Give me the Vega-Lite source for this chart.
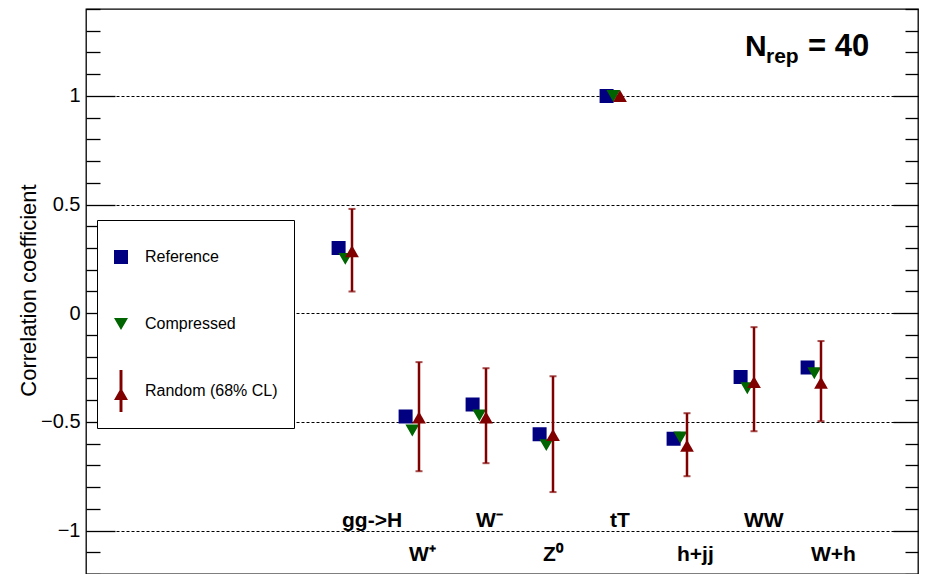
{
  "$schema": "https://vega.github.io/schema/vega-lite/v6.json",
  "width": 832,
  "height": 565,
  "autosize": {"type": "none"},
  "padding": {"left": 86, "top": 9, "right": 8, "bottom": 0},
  "background": "white",
  "config": {
    "view": {"stroke": "black", "strokeWidth": 1.3},
    "font": "Liberation Sans",
    "legend": {
      "orient": "none",
      "legendX": 11,
      "legendY": 211,
      "padding": 16,
      "strokeColor": "black",
      "fillColor": "white",
      "labelFont": "Liberation Sans",
      "labelFontSize": 16,
      "labelColor": "black",
      "symbolSize": 196,
      "symbolStrokeWidth": 0,
      "rowPadding": 25,
      "labelOffset": 16,
      "cornerRadius": 0,
      "titleFontSize": 8,
      "titlePadding": 5
    }
  },
  "data": {
    "values": [
      {"process": "gg->H", "series": "Reference", "value": 0.30},
      {"process": "gg->H", "series": "Compressed", "value": 0.25},
      {"process": "gg->H", "series": "Random (68% CL)", "value": 0.285, "lo": 0.10, "hi": 0.48},
      {"process": "W⁺", "series": "Reference", "value": -0.475},
      {"process": "W⁺", "series": "Compressed", "value": -0.54},
      {"process": "W⁺", "series": "Random (68% CL)", "value": -0.48, "lo": -0.727, "hi": -0.225},
      {"process": "W⁻", "series": "Reference", "value": -0.42},
      {"process": "W⁻", "series": "Compressed", "value": -0.47},
      {"process": "W⁻", "series": "Random (68% CL)", "value": -0.48, "lo": -0.69, "hi": -0.253},
      {"process": "Z⁰", "series": "Reference", "value": -0.557},
      {"process": "Z⁰", "series": "Compressed", "value": -0.607},
      {"process": "Z⁰", "series": "Random (68% CL)", "value": -0.56, "lo": -0.823, "hi": -0.29},
      {"process": "tT", "series": "Reference", "value": 1.0},
      {"process": "tT", "series": "Compressed", "value": 1.0},
      {"process": "tT", "series": "Random (68% CL)", "value": 1.0},
      {"process": "h+jj", "series": "Reference", "value": -0.578},
      {"process": "h+jj", "series": "Compressed", "value": -0.572},
      {"process": "h+jj", "series": "Random (68% CL)", "value": -0.61, "lo": -0.75, "hi": -0.46},
      {"process": "WW", "series": "Reference", "value": -0.294},
      {"process": "WW", "series": "Compressed", "value": -0.345},
      {"process": "WW", "series": "Random (68% CL)", "value": -0.317, "lo": -0.543, "hi": -0.064},
      {"process": "W+h", "series": "Reference", "value": -0.25},
      {"process": "W+h", "series": "Compressed", "value": -0.276},
      {"process": "W+h", "series": "Random (68% CL)", "value": -0.32, "lo": -0.497, "hi": -0.128}
    ]
  },
  "encoding": {
    "x": {
      "field": "process",
      "type": "nominal",
      "axis": null,
      "sort": null,
      "scale": {
        "type": "band",
        "domain": [" ", "  ", "   ", "gg->H", "W⁺", "W⁻", "Z⁰", "tT", "h+jj", "WW", "W+h"],
        "paddingInner": 0,
        "paddingOuter": 0.709,
        "align": 0.3316
      }
    }
  },
  "resolve": {"axis": {"y": "independent"}},
  "layer": [
    {
      "transform": [{"filter": "datum.series === 'Reference'"}],
      "mark": {"type": "point", "filled": true, "opacity": 1, "size": 196, "xOffset": -13.4},
      "encoding": {
        "y": {
          "field": "value",
          "type": "quantitative",
          "scale": {"domain": [-1.2, 1.4], "nice": false, "zero": false},
          "axis": {
            "orient": "left",
            "values": [-1.2, -1.1, -1, -0.9, -0.8, -0.7, -0.6, -0.5, -0.4, -0.3, -0.2, -0.1, 0, 0.1, 0.2, 0.3, 0.4, 0.5, 0.6, 0.7, 0.8, 0.9, 1, 1.1, 1.2, 1.3, 1.4],
            "title": "Correlation coefficient",
            "titleFont": "Liberation Sans",
            "titleFontSize": 22,
            "titleFontWeight": "normal",
            "titleColor": "black",
            "titleX": -58,
            "titleY": 281,
            "titleAngle": -90,
            "titleAlign": "center",
            "titleBaseline": "middle",
            "labelExpr": "abs(datum.value*2 - round(datum.value*2)) < 0.01 ? (abs(datum.value) < 0.01 ? '0' : format(datum.value, '.1~f')) : ''",
            "labelFont": "Liberation Sans",
            "labelFontSize": 20,
            "labelColor": "black",
            "labelPadding": 35,
            "labelOverlap": false,
            "labelBound": false,
            "labelFlush": false,
            "domain": false,
            "tickColor": "black",
            "tickWidth": 1.3,
            "tickSize": {"condition": {"test": "abs(datum.value*2 - round(datum.value*2)) < 0.01", "value": -29}, "value": -14},
            "grid": true,
            "gridColor": "black",
            "gridWidth": 1,
            "gridDash": [3, 2],
            "gridOpacity": {"condition": {"test": "abs(datum.value*2 - round(datum.value*2)) < 0.01", "value": 1}, "value": 0}
          }
        },
        "color": {
          "field": "series",
          "type": "nominal",
          "scale": {"domain": ["Reference", "Compressed", "Random (68% CL)"], "range": ["#000080", "#006400", "#800000"]},
          "legend": {"title": " "}
        },
        "shape": {
          "field": "series",
          "type": "nominal",
          "scale": {"domain": ["Reference", "Compressed", "Random (68% CL)"], "range": ["M-1,-1L1,-1L1,1L-1,1Z M0,-3L0,-3Z M0,3L0,3Z", "M0,0.866L-1,-0.866L1,-0.866Z M0,-3L0,-3Z M0,3L0,3Z", "M-0.21,-3L0.21,-3L0.21,3L-0.21,3Z M-1,1.3L0,-0.45L1,1.3Z"]},
          "legend": {"title": " "}
        }
      }
    },
    {
      "transform": [{"filter": "datum.series === 'Compressed'"}],
      "mark": {"type": "point", "filled": true, "opacity": 1, "size": 190, "xOffset": -6.7},
      "encoding": {
        "y": {
          "field": "value",
          "type": "quantitative",
          "scale": {"domain": [-1.2, 1.4], "nice": false, "zero": false},
          "axis": {
            "orient": "right",
            "values": [-1.2, -1.1, -1, -0.9, -0.8, -0.7, -0.6, -0.5, -0.4, -0.3, -0.2, -0.1, 0, 0.1, 0.2, 0.3, 0.4, 0.5, 0.6, 0.7, 0.8, 0.9, 1, 1.1, 1.2, 1.3, 1.4],
            "title": null,
            "labels": false,
            "domain": false,
            "grid": false,
            "tickColor": "black",
            "tickWidth": 1.3,
            "tickSize": {"condition": {"test": "abs(datum.value*2 - round(datum.value*2)) < 0.01", "value": -25}, "value": -13}
          }
        },
        "color": {
          "field": "series",
          "type": "nominal",
          "scale": {"domain": ["Reference", "Compressed", "Random (68% CL)"], "range": ["#000080", "#006400", "#800000"]},
          "legend": {"title": " "}
        },
        "shape": {
          "field": "series",
          "type": "nominal",
          "scale": {"domain": ["Reference", "Compressed", "Random (68% CL)"], "range": ["M-1,-1L1,-1L1,1L-1,1Z M0,-3L0,-3Z M0,3L0,3Z", "M0,0.866L-1,-0.866L1,-0.866Z M0,-3L0,-3Z M0,3L0,3Z", "M-0.21,-3L0.21,-3L0.21,3L-0.21,3Z M-1,1.3L0,-0.45L1,1.3Z"]},
          "legend": {"title": " "}
        }
      }
    },
    {
      "transform": [{"filter": "isValid(datum.lo)"}],
      "mark": {"type": "errorbar", "color": "#800000", "thickness": 2.5, "ticks": {"size": 7, "thickness": 2, "color": "#800000"}},
      "encoding": {
        "y": {"field": "lo", "type": "quantitative", "scale": {"domain": [-1.2, 1.4], "nice": false, "zero": false}, "axis": null},
        "y2": {"field": "hi"}
      }
    },
    {
      "transform": [{"filter": "datum.series === 'Random (68% CL)'"}],
      "mark": {"type": "point", "filled": true, "opacity": 1, "size": 190, "shape": "triangle-up"},
      "encoding": {
        "y": {"field": "value", "type": "quantitative", "scale": {"domain": [-1.2, 1.4], "nice": false, "zero": false}, "axis": null},
        "color": {
          "field": "series",
          "type": "nominal",
          "scale": {"domain": ["Reference", "Compressed", "Random (68% CL)"], "range": ["#000080", "#006400", "#800000"]},
          "legend": null
        }
      }
    },
    {
      "transform": [{"filter": "datum.series === 'Reference' && indexof(['gg->H', 'W⁻', 'tT', 'WW'], datum.process) >= 0"}],
      "mark": {"type": "text", "align": "left", "baseline": "alphabetic", "dx": -10, "font": "Liberation Sans", "fontWeight": "bold", "fontSize": 21, "color": "black"},
      "encoding": {
        "y": {"datum": -0.984, "type": "quantitative", "scale": {"domain": [-1.2, 1.4], "nice": false, "zero": false}, "axis": null},
        "text": {"field": "process"}
      }
    },
    {
      "transform": [{"filter": "datum.series === 'Reference' && indexof(['W⁺', 'Z⁰', 'h+jj', 'W+h'], datum.process) >= 0"}],
      "mark": {"type": "text", "align": "left", "baseline": "alphabetic", "dx": -10, "font": "Liberation Sans", "fontWeight": "bold", "fontSize": 21, "color": "black"},
      "encoding": {
        "y": {"datum": -1.141, "type": "quantitative", "scale": {"domain": [-1.2, 1.4], "nice": false, "zero": false}, "axis": null},
        "text": {"field": "process"}
      }
    },
    {
      "data": {"values": [{"main": "N", "sub": "rep", "rest": "= 40"}]},
      "mark": {"type": "text", "align": "left", "baseline": "alphabetic", "dx": -76, "font": "Liberation Sans", "fontWeight": "bold", "fontSize": 30, "color": "black"},
      "encoding": {
        "x": {"datum": "W+h", "type": "nominal"},
        "y": {"datum": 1.182, "type": "quantitative", "scale": {"domain": [-1.2, 1.4], "nice": false, "zero": false}, "axis": null},
        "text": {"field": "main"}
      }
    },
    {
      "data": {"values": [{"main": "N", "sub": "rep", "rest": "= 40"}]},
      "mark": {"type": "text", "align": "left", "baseline": "alphabetic", "dx": -55, "font": "Liberation Sans", "fontWeight": "bold", "fontSize": 21, "color": "black"},
      "encoding": {
        "x": {"datum": "W+h", "type": "nominal"},
        "y": {"datum": 1.15, "type": "quantitative", "scale": {"domain": [-1.2, 1.4], "nice": false, "zero": false}, "axis": null},
        "text": {"field": "sub"}
      }
    },
    {
      "data": {"values": [{"main": "N", "sub": "rep", "rest": "= 40"}]},
      "mark": {"type": "text", "align": "left", "baseline": "alphabetic", "dx": -13, "font": "Liberation Sans", "fontWeight": "bold", "fontSize": 31, "color": "black"},
      "encoding": {
        "x": {"datum": "W+h", "type": "nominal"},
        "y": {"datum": 1.182, "type": "quantitative", "scale": {"domain": [-1.2, 1.4], "nice": false, "zero": false}, "axis": null},
        "text": {"field": "rest"}
      }
    }
  ]
}
